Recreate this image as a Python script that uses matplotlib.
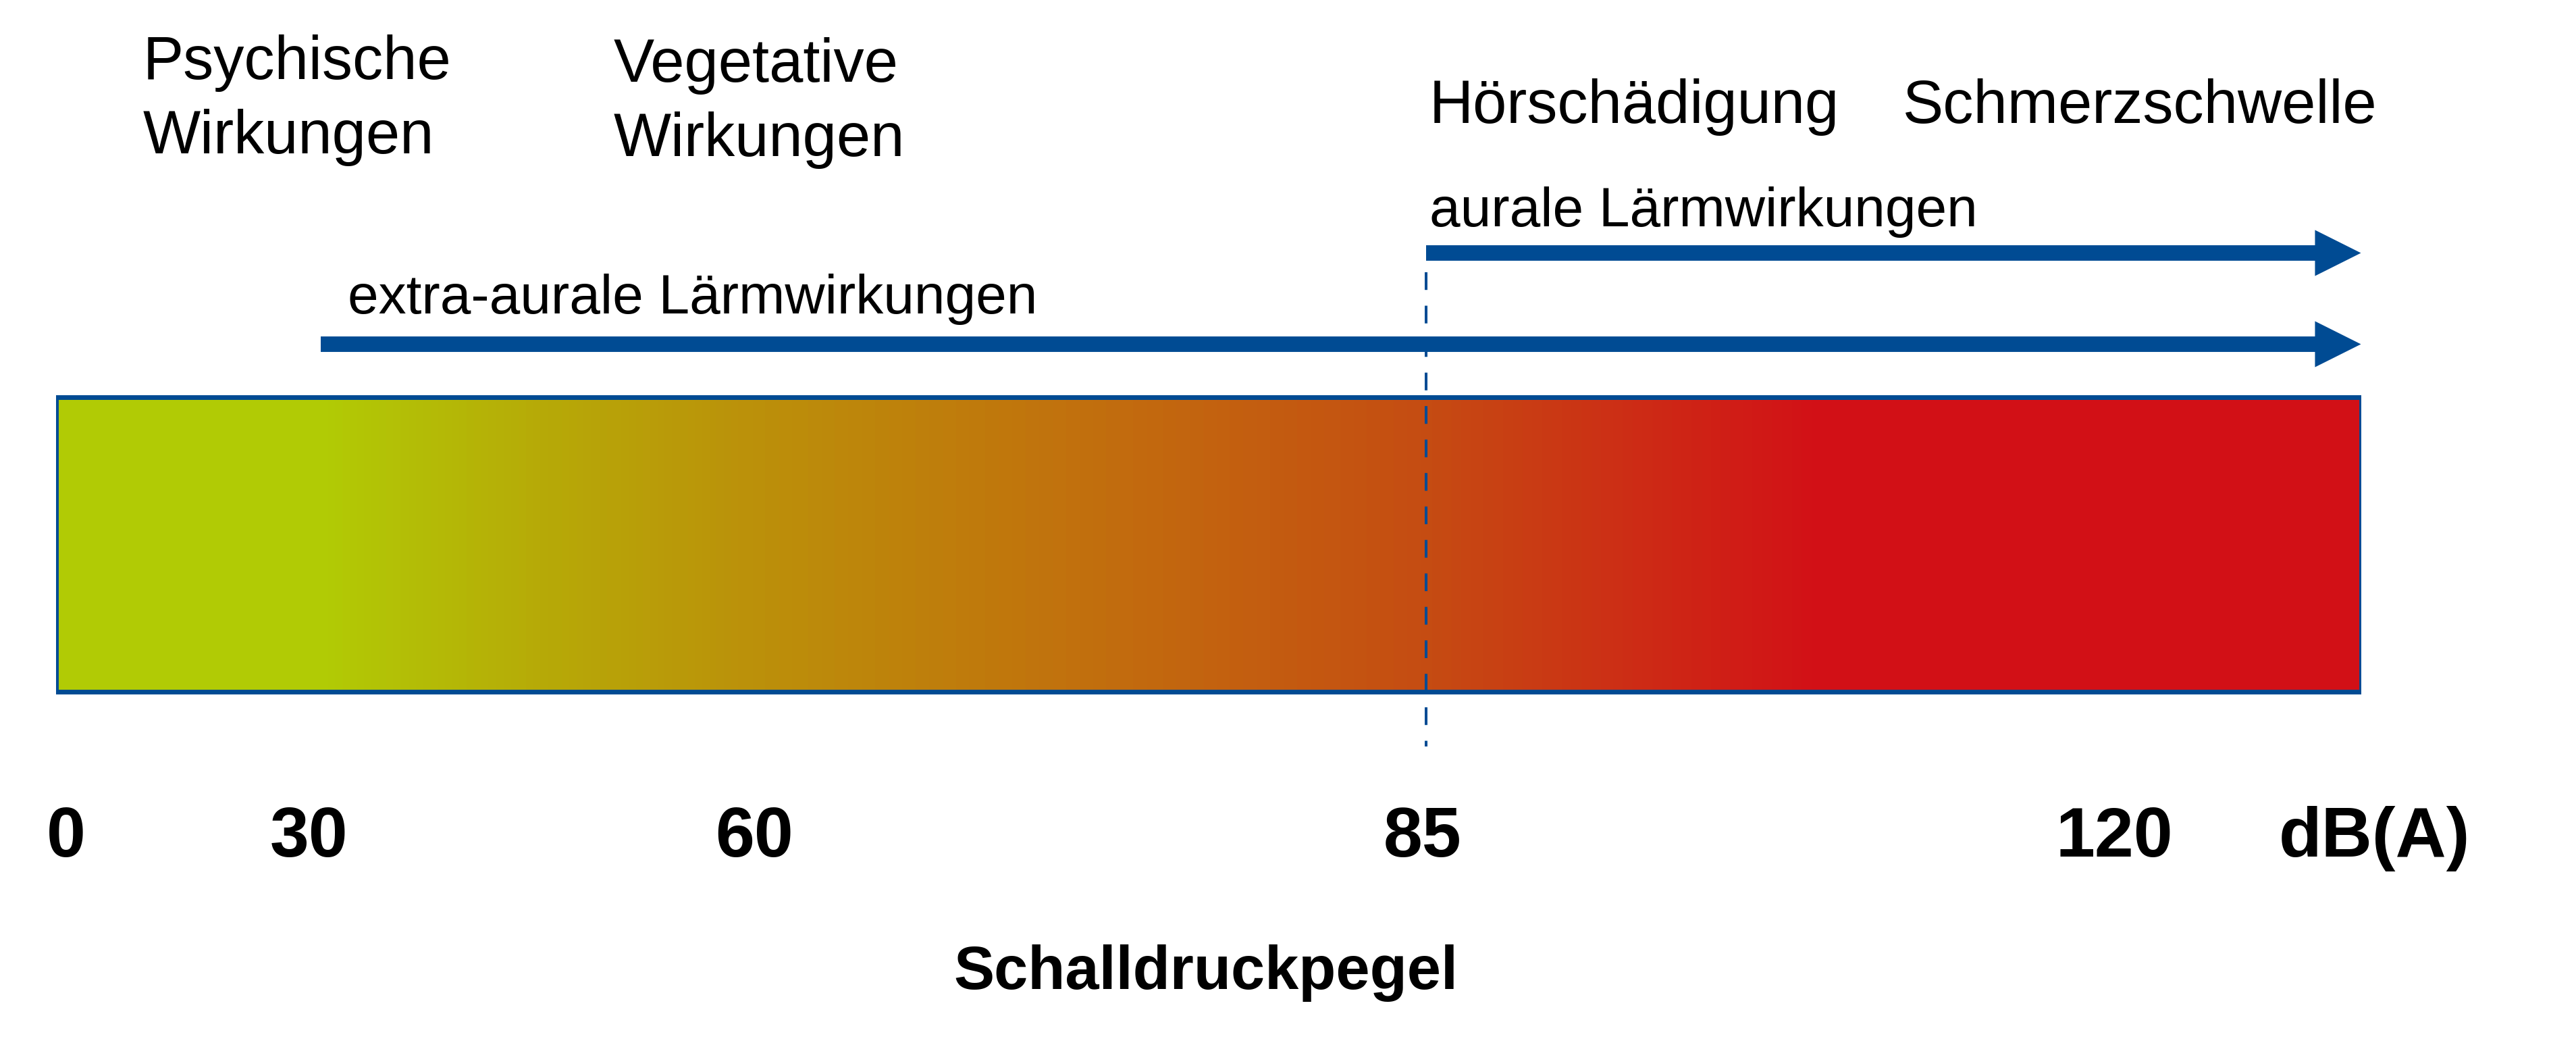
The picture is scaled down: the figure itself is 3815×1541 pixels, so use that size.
import numpy as np
import matplotlib.pyplot as plt
from matplotlib.colors import LinearSegmentedColormap
from matplotlib.patches import Rectangle

plt.rcParams['font.family'] = ['Liberation Sans', 'DejaVu Sans']

W, H = 3815, 1541
BLUE = '#004b93'

# Schallpegel-Skala (dB(A)) – nicht linear gezeichnet
tick_db = [0, 30, 60, 85, 120]
tick_labels = ['0', '30', '60', '85', '120']
unit_label = 'dB(A)'
axis_title = 'Schalldruckpegel'
bar_db = (0, 130)

# Wirkungsbereiche
extra_aural = (30, 130)
aural = (85, 130)
threshold_db = 85

# Farbverlauf des Balkens (dB, Farbe)
grad_db = [0, 30, 45, 60, 72, 85, 95, 105, 130]
grad_col = ['#b1cb05', '#b1cb05', '#b6aa07', '#bb900a', '#c1700d',
            '#c54c12', '#cc2e15', '#d21016', '#d21016']

# Skalen-Stützstellen: dB -> Anteil der Achsbreite
knot_db = np.array([0, 30, 60, 85, 120, 130])
knot_px = np.array([82.5, 475, 1117, 2112, 3131, 3496.5])
ax_x0, ax_x1 = knot_px[0], knot_px[-1]
knot_frac = (knot_px - ax_x0) / (ax_x1 - ax_x0)
# kleine Versätze der Beschriftung gegenüber der Skala (Pixel)
label_dx = [15, -18, 0, -5, 0]


def fwd(x):
    return np.interp(x, knot_db, knot_frac)


def inv(f):
    return np.interp(f, knot_frac, knot_db)


fig = plt.figure(figsize=(W / 100, H / 100), dpi=100)
fig.patch.set_facecolor('white')

ax = fig.add_axes([ax_x0 / W, 0, (ax_x1 - ax_x0) / W, 1])
ax.set_xscale('function', functions=(fwd, inv))
ax.set_xlim(*bar_db)
ax.set_ylim(H, 0)
ax.axis('off')

# Balken mit Farbverlauf
cmap = LinearSegmentedColormap.from_list(
    'laerm', list(zip(np.array(grad_db) / bar_db[1], grad_col)))
xe = np.linspace(bar_db[0], bar_db[1], 1301)
xm = 0.5 * (xe[:-1] + xe[1:])
bar_top, bar_bot = 587.5, 1023.5
ax.pcolormesh(xe, [bar_top, bar_bot], xm[None, :] / bar_db[1], cmap=cmap,
              vmin=0, vmax=1, shading='flat', zorder=1)
ax.add_patch(Rectangle((bar_db[0], bar_top), bar_db[1] - bar_db[0], bar_bot - bar_top,
                       fill=False, edgecolor=BLUE, lw=5.0, zorder=3))

# gestrichelte Linie bei 85 dB
ax.plot([threshold_db, threshold_db], [403, 1105], color=BLUE, lw=2.9,
        ls=(0, (6.5, 5.8)), zorder=2)

# Pfeile
arrow_style = 'simple,head_width=4.9,head_length=4.9,tail_width=1.65'
for (x0, x1), y in [(aural, 374.5), (extra_aural, 509.5)]:
    ax.annotate('', xy=(x1, y), xytext=(x0, y),
                arrowprops=dict(arrowstyle=arrow_style, mutation_scale=10,
                                color=BLUE, lw=0, shrinkA=0, shrinkB=0),
                zorder=4)

# Skalenbeschriftung
for v, lab, dx in zip(tick_db, tick_labels, label_dx):
    ax.annotate(lab, xy=(v, 1268), xytext=(dx * 0.72, 0), textcoords='offset points',
                ha='center', va='baseline', fontsize=75, fontweight='bold',
                annotation_clip=False)

# Texte in Pixelkoordinaten
tx = fig.add_axes([0, 0, 1, 1], facecolor='none')
tx.set_xlim(0, W)
tx.set_ylim(H, 0)
tx.axis('off')

tx.text(3516, 1268, unit_label, ha='center', va='baseline', fontsize=75,
        fontweight='bold')
tx.text(1786, 1464, axis_title, ha='center', va='baseline', fontsize=65,
        fontweight='bold')

tx.text(212, 117, 'Psychische', fontsize=65, va='baseline')
tx.text(212, 227, 'Wirkungen', fontsize=65, va='baseline')
tx.text(909, 121, 'Vegetative', fontsize=65, va='baseline')
tx.text(909, 231, 'Wirkungen', fontsize=65, va='baseline')
tx.text(2117, 182, 'Hörschädigung', fontsize=65, va='baseline')
tx.text(2818, 182, 'Schmerzschwelle', fontsize=65, va='baseline')
tx.text(2117, 335, 'aurale Lärmwirkungen', fontsize=59, va='baseline')
tx.text(515, 464, 'extra-aurale Lärmwirkungen', fontsize=59, va='baseline')

fig.savefig('out.png', dpi=100)
